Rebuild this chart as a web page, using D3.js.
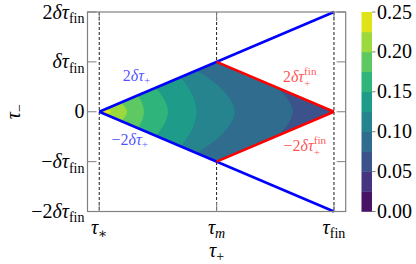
<!DOCTYPE html>
<html><head><meta charset="utf-8">
<script src="https://cdn.jsdelivr.net/npm/d3@7"></script>
<style>
body{margin:0;background:#fff}
</style></head><body>
<svg id="chart" width="416" height="264"></svg>
<script>
// contour levels of the colour bar
const levels = [0, 0.025, 0.05, 0.075, 0.1, 0.125, 0.15, 0.175, 0.2, 0.225, 0.25];
const cbTicks = [0, 0.05, 0.1, 0.15, 0.2, 0.25];
// iso lines, upper half only: [tau+, tau-] from the edge down to tau- = 0
const isoLevels = [0.075, 0.1, 0.125, 0.15, 0.175, 0.2, 0.225];
const isoLines = [
  [[1.52, 0.48], [1.61, 0.24], [1.65, 0]],
  [[0.83, 0.83], [1.06, 0.42], [1.155, 0]],
  [[0.695, 0.695], [0.79, 0.35], [0.83, 0]],
  [[0.483, 0.483], [0.555, 0.24], [0.585, 0]],
  [[0.33, 0.33], [0.365, 0.165], [0.38, 0]],
  [[0.185, 0.185], [0.22, 0.093], [0.236, 0]],
  [[0.049, 0.049], [0.085, 0.025], [0.10, 0]]
];
const baseBand = 0.05; // lowest band seen in the diamond
const diamond = [[0, 0], [1, 1], [2, 0], [1, -1]];
const blueLines = [[[0, 0], [2, 2]], [[0, 0], [2, -2]]];
const redLines = [[[1, 1], [2, 0]], [[1, -1], [2, 0]]];
const xTicks = [0, 1, 2];
const xTickLabels = [
  [["τ", "i"], ["∗", "sub"]],
  [["τ", "i"], ["m", "subi"]],
  [["τ", "i"], ["fin", "sub"]]
];
const yTicks = [-2, -1, 0, 1, 2];
const yTickLabels = [
  [["−2", "r"], ["δτ", "i"], ["fin", "sub"]],
  [["−", "r"], ["δτ", "i"], ["fin", "sub"]],
  [["0", "r"]],
  [["δτ", "i"], ["fin", "sub"]],
  [["2", "r"], ["δτ", "i"], ["fin", "sub"]]
];
const notes = [
  {pos: [0.2, 0.62], txt: [["2", "r"], ["δτ", "i"], ["+", "sub"]], c: "rgba(0,0,255,0.7)"},
  {pos: [0.105, -0.66], txt: [["−2", "r"], ["δτ", "i"], ["+", "sub"]], c: "rgba(0,0,255,0.7)"},
  {pos: [1.565, 0.6], txt: [["2", "r"], ["δτ", "i"], ["fin", "supsub", "+"]], c: "rgba(255,0,0,0.7)"},
  {pos: [1.57, -0.79], txt: [["−2", "r"], ["δτ", "i"], ["fin", "supsub", "+"]], c: "rgba(255,0,0,0.7)"}
];

const FONT = "'Liberation Serif', 'DejaVu Serif', serif";
const svg = d3.select("#chart");
const x = d3.scaleLinear().domain([-0.1, 2.1]).range([87.5, 345.7]);
const y = d3.scaleLinear().domain([-2, 2]).range([211.5, 12]);
const cy = d3.scaleLinear().domain([0, 0.25]).range([211.5, 12]);
const cbX = 361.5, cbW = 10.5;
const color = v => d3.interpolateViridis(v / 0.25);
const step = levels[1] - levels[0];
const tickLen = 9;
const gray = "#808080";

// little math text helper: pieces placed one after another
function tex(parent, px, py, pieces, size, anchor, fill, rot) {
  const g = parent.append("g");
  let cx = 0;
  pieces.forEach(p => {
    const [s, k, s2] = p;
    const put = (str, dy, fs, it) => {
      const t = g.append("text").attr("x", cx).attr("y", dy)
        .attr("font-family", FONT)
        .attr("font-size", fs).attr("font-style", it ? "italic" : "normal")
        .attr("fill", fill).text(str);
      return t.node().getComputedTextLength();
    };
    if (k === "r" || k === "i") cx += put(s, 0, size, k === "i");
    else if (k === "sub") cx += put(s, size * 0.22, size * 0.7, false);
    else if (k === "subi") cx += put(s, size * 0.22, size * 0.7, true);
    else if (k === "supsub") {
      const w1 = put(s, -size * 0.42, size * 0.7, false);
      const w2 = put(s2, size * 0.3, size * 0.7, false);
      cx += Math.max(w1, w2);
    }
  });
  const dx = anchor === "end" ? -cx : anchor === "middle" ? -cx / 2 : 0;
  if (rot) g.attr("transform", `translate(${px},${py}) rotate(${rot}) translate(${dx},0)`);
  else g.attr("transform", `translate(${px + dx},${py})`);
  return g;
}

function setupChart() {
  const pt = d => [x(d[0]), y(d[1])];
  const straight = d3.line().x(d => x(d[0])).y(d => y(d[1]));
  const smooth = d3.line().x(d => x(d[0])).y(d => y(d[1])).curve(d3.curveCatmullRom.alpha(0.5));

  svg.append("clipPath").attr("id", "dia")
    .append("path").attr("d", straight(diamond) + "Z");

  // dashed verticals
  xTicks.forEach(t => {
    svg.append("line").attr("x1", x(t)).attr("x2", x(t))
      .attr("y1", y(2)).attr("y2", y(-2))
      .attr("stroke", "#000").attr("stroke-width", 0.9).attr("stroke-dasharray", "3,2");
  });

  // filled contours
  const bands = svg.append("g").attr("clip-path", "url(#dia)");
  bands.append("path").attr("d", straight(diamond) + "Z")
    .attr("fill", color(baseBand + step / 2));
  isoLevels.forEach((lv, i) => {
    const up = isoLines[i];
    const lo = up.slice(0, -1).reverse().map(d => [d[0], -d[1]]);
    const back = up[0][0] <= 1 ? [[0, 0]] : [[1, -1], [0, 0], [1, 1]];
    const d = smooth(up.concat(lo)) + back.map(p => "L" + pt(p).join(",")).join("") + "Z";
    bands.append("path").attr("d", d).attr("fill", color(lv + step / 2))
      .attr("stroke", color(lv + step / 2)).attr("stroke-width", 0.3);
  });

  // blue and red lines
  blueLines.forEach(l => svg.append("path").attr("d", straight(l))
    .attr("stroke", "#0000ff").attr("stroke-width", 2.5).attr("fill", "none"));
  redLines.forEach(l => svg.append("path").attr("d", straight(l))
    .attr("stroke", "#ff0000").attr("stroke-width", 2.5).attr("fill", "none"));

  // frame and inward ticks
  svg.append("rect").attr("x", x(-0.1)).attr("y", y(2))
    .attr("width", x(2.1) - x(-0.1)).attr("height", y(-2) - y(2))
    .attr("fill", "none").attr("stroke", gray).attr("stroke-width", 1.2);
  const tk = svg.append("g").attr("stroke", gray).attr("stroke-width", 1);
  xTicks.forEach(t => {
    tk.append("line").attr("x1", x(t)).attr("x2", x(t)).attr("y1", y(-2)).attr("y2", y(-2) - tickLen);
    tk.append("line").attr("x1", x(t)).attr("x2", x(t)).attr("y1", y(2)).attr("y2", y(2) + tickLen);
  });
  yTicks.forEach(t => {
    tk.append("line").attr("y1", y(t)).attr("y2", y(t)).attr("x1", x(-0.1)).attr("x2", x(-0.1) + tickLen);
    tk.append("line").attr("y1", y(t)).attr("y2", y(t)).attr("x1", x(2.1)).attr("x2", x(2.1) - tickLen);
  });

  // tick labels
  xTicks.forEach((t, i) => tex(svg, x(t), 233.5, xTickLabels[i], 20, "middle", "#000"));
  yTicks.forEach((t, i) => tex(svg, x(-0.1) - 3, y(t) + 6.5, yTickLabels[i], 20, "end", "#000"));

  // axis labels
  tex(svg, x(1), 256.5, [["τ", "i"], ["+", "sub"]], 20, "middle", "#000");
  tex(svg, 20, y(0), [["τ", "i"], ["−", "sub"]], 20, "middle", "#000", -90);

  // annotations
  notes.forEach(n => tex(svg, x(n.pos[0]), y(n.pos[1]), n.txt, 16, "start", n.c));

  // colour bar
  const cb = svg.append("g");
  levels.slice(0, -1).forEach((lv, i) => {
    cb.append("rect").attr("x", cbX).attr("width", cbW)
      .attr("y", cy(levels[i + 1])).attr("height", cy(lv) - cy(levels[i + 1]) + 0.3)
      .attr("fill", color(lv + step / 2));
  });
  cbTicks.forEach(v => {
    cb.append("line").attr("x1", cbX + cbW).attr("x2", cbX + cbW + 3.5)
      .attr("y1", cy(v)).attr("y2", cy(v)).attr("stroke", gray).attr("stroke-width", 1);
    tex(cb, cbX + cbW + 5, cy(v) + 6.5, [[d3.format(".2f")(v), "r"]], 20, "start", "#000");
  });
}

setupChart();
</script>
</body></html>
